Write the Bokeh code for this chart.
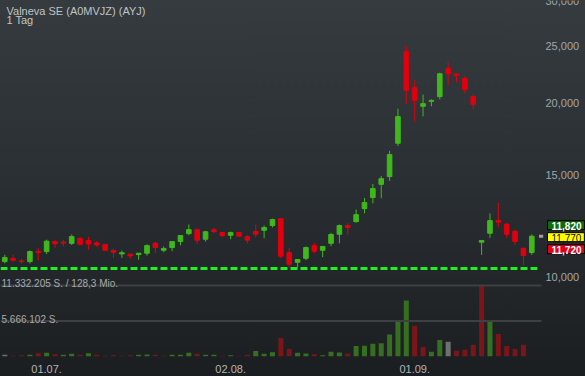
import numpy as np
import pandas as pd
from bokeh.plotting import figure
from bokeh.models import Range1d, LinearScale, FixedTicker, Label, ColumnDataSource
from bokeh.embed import file_html
from bokeh.resources import INLINE

# ---------------- data ----------------
title_text = "Valneva SE (A0MVJZ) (AYJ)"
interval_text = "1 Tag"
start_date = "2021-06-24"

opens = [10.64, 10.77, 10.67, 10.64, 11.09, 11.07, 11.52, 11.49, 11.44, 11.66,
         11.57, 11.46, 11.39, 11.12, 10.97, 10.96, 10.94, 11.00, 11.44, 11.13,
         11.25, 11.52, 11.89, 12.08, 11.63, 12.08, 11.94, 11.81, 11.94, 11.75,
         11.99, 12.05, 12.28, 12.62, 11.03, 10.61, 10.78, 11.34, 11.13, 11.44,
         11.86, 12.28, 12.47, 13.13, 13.72, 14.46, 14.91, 17.02, 24.48, 21.22,
         19.71, 20.10, 20.48, 22.91, 22.41, 22.02, 20.50, 11.49, 11.91, 12.52,
         12.34, 12.00, 11.22, 11.03]
highs = [10.93, 10.93, 10.76, 11.12, 11.22, 11.61, 11.57, 11.61, 11.85, 11.74,
         11.74, 11.54, 11.42, 11.19, 11.12, 10.96, 11.00, 11.39, 11.51, 11.30,
         11.52, 11.80, 12.33, 12.08, 12.02, 12.17, 11.94, 11.99, 11.94, 11.81,
         12.33, 12.28, 12.62, 12.62, 11.24, 10.73, 11.30, 11.46, 11.30, 11.93,
         12.33, 12.39, 13.08, 13.70, 14.48, 14.95, 16.51, 19.53, 25.07, 21.88,
         20.64, 20.26, 22.52, 23.46, 22.41, 22.26, 20.64, 11.57, 12.88, 13.43,
         12.41, 12.07, 11.22, 11.85]
lows = [10.57, 10.64, 10.55, 10.56, 10.69, 10.97, 11.24, 11.31, 11.37, 11.34,
        11.15, 11.28, 11.10, 10.80, 10.80, 10.76, 10.72, 10.90, 11.00, 11.04,
        11.09, 11.35, 11.81, 11.40, 11.52, 11.91, 11.72, 11.63, 11.75, 11.44,
        11.72, 11.67, 12.19, 10.78, 10.38, 10.40, 10.70, 11.00, 10.83, 11.31,
        11.44, 11.83, 12.42, 12.89, 13.41, 13.68, 14.66, 16.84, 19.89, 18.54,
        18.94, 19.71, 20.26, 21.45, 21.67, 20.75, 19.45, 10.93, 11.69, 12.19,
        11.69, 11.37, 10.50, 10.93]
closes = [10.81, 10.70, 10.64, 11.07, 11.03, 11.54, 11.43, 11.45, 11.75, 11.40,
          11.41, 11.37, 11.13, 11.04, 11.02, 10.89, 11.00, 11.34, 11.25, 11.21,
          11.52, 11.80, 12.08, 11.58, 11.98, 11.99, 11.80, 11.94, 11.77, 11.58,
          11.86, 12.18, 12.57, 10.87, 10.53, 10.73, 11.25, 11.09, 11.30, 11.85,
          12.28, 12.18, 12.82, 13.45, 14.22, 14.79, 16.27, 18.92, 21.00, 20.18,
          19.92, 20.18, 22.43, 22.43, 22.29, 21.06, 19.86, 11.57, 12.52, 12.44,
          11.86, 11.52, 10.90, 11.77]
volumes = [275000, 115000, 210000, 275000, 530000, 600000, 370000, 275000, 435000, 275000,
           530000, 275000, 115000, 210000, 115000, 210000, 275000, 320000, 275000, 115000,
           275000, 275000, 600000, 435000, 275000, 275000, 115000, 210000, 115000, 275000,
           880000, 436000, 694000, 2950000, 1180000, 597000, 484000, 371000, 210000, 759000,
           646000, 436000, 1660000, 1720000, 2050000, 2100000, 3500000, 5600000, 8930000, 4900000,
           1510000, 759000, 2640000, 2370000, 920000, 1080000, 1880000, 11332205, 5760000, 3600000,
           1660000, 1180000, 1880000, 0]
price_ticks = [10, 15, 20, 25, 30]
turnover_text = "128,3 Mio."
quote_ask = 11.82
quote_last = 11.77
quote_bid = 11.72
support_level = 10.35

# ---------------- derived ----------------
n = len(closes)
idx = np.arange(n)
dates = pd.bdate_range(start_date, periods=n)
month_ticks = [int(i) for i in range(1, n) if dates[i].month != dates[i - 1].month]
tick_labels = {i: dates[i].strftime("%d.%m.") for i in month_ticks}

o = np.array(opens); h = np.array(highs); l = np.array(lows); c = np.array(closes)
UP, DOWN = "#40b81c", "#e0000e"
ccol = [UP if cc >= oo else DOWN for oo, cc in zip(o, c)]

VUP, VDOWN, VFLAT = "#356f1f", "#7a1519", "#707070"
vcol = [VFLAT]
for i in range(1, n):
    d = round(c[i] - c[i - 1], 4)
    vcol.append(VUP if d > 0 else (VDOWN if d < 0 else VFLAT))

vmax = max(volumes)


def de_int(v):
    return f"{int(v):,}".replace(",", ".")


def de_price(v):
    return f"{v:.3f}".replace(".", ",")


FONT = "Liberation Sans"
W, HGT = 585, 376
FRAME_H = 356
SLOT = 8.365                    # px per trading day
x_start = -4.3 / SLOT
x_end = x_start + W / SLOT
plot_end = n + 0.16             # right edge of the drawing area (price scale sits beyond)

p = figure(width=W, height=HGT, output_backend="svg", toolbar_location=None,
           title=None, y_axis_location=None,
           x_range=Range1d(x_start, x_end), y_range=Range1d(7.30, 30.0),
           y_axis_type="log",
           min_border_left=0, min_border_top=0, min_border_right=0, min_border_bottom=20)
p.background_fill_alpha = 0
p.border_fill_alpha = 0
p.outline_line_color = None
p.grid.visible = False
p.styles = {"background": "linear-gradient(180deg, #353b3f 0%, #2b3034 45%, #1b1e21 100%)"}

p.extra_y_ranges = {"vol": Range1d(0, vmax * FRAME_H / 71.0)}
p.extra_y_scales = {"vol": LinearScale()}

xa = p.xaxis[0]
xa.ticker = FixedTicker(ticks=month_ticks)
xa.major_label_overrides = tick_labels
xa.axis_line_color = None
xa.major_tick_line_color = None
xa.minor_tick_line_color = None
xa.major_label_standoff = 2
xa.major_label_text_color = "#b3b5b7"
xa.major_label_text_font = FONT
xa.major_label_text_font_size = "11px"

# price scale labels (right)
for t in price_ticks:
    p.add_layout(Label(x=545, x_units="screen", y=t, text=de_price(t),
                       text_font=FONT, text_font_size="11px", text_color="#a3a6a8",
                       text_baseline="middle"))

# volume panel
vsrc = ColumnDataSource(dict(x=idx, top=volumes, color=vcol))
p.vbar(x="x", top="top", width=0.6, fill_color="color", line_color=None,
       source=vsrc, y_range_name="vol")
p.segment(x0=[x_start, x_start], x1=[plot_end, plot_end], y0=[vmax, vmax / 2], y1=[vmax, vmax / 2],
          line_color="#3d4144", line_width=2, y_range_name="vol")

# candles
csrc = ColumnDataSource(dict(x=idx, o=o, h=h, l=l, c=c,
                             top=np.maximum(o, c), bottom=np.minimum(o, c), color=ccol))
p.segment(x0="x", y0="h", x1="x", y1="l", line_color="color", line_width=1, source=csrc)
p.vbar(x="x", top="top", bottom="bottom", width=0.55, fill_color="color",
       line_color="color", line_width=1, source=csrc)

# support line
p.segment(x0=[x_start], x1=[plot_end - 0.5], y0=[support_level], y1=[support_level],
          line_color="#1ff01f", line_width=3, line_dash="7 3")

# last price marker
p.segment(x0=[plot_end - 0.3], x1=[plot_end + 0.2], y0=[quote_last], y1=[quote_last],
          line_color="#a0a0a0", line_width=3)

# texts
p.add_layout(Label(x=6, y=FRAME_H - 10.7, x_units="screen", y_units="screen", text=title_text,
                   text_font=FONT, text_font_size="11px", text_color="#c0c3c5",
                   text_baseline="alphabetic"))
p.add_layout(Label(x=6, y=FRAME_H - 19.3, x_units="screen", y_units="screen", text=interval_text,
                   text_font=FONT, text_font_size="11px", text_color="#c0c3c5",
                   text_baseline="alphabetic"))
p.add_layout(Label(x=1, y=vmax, x_units="screen", y_range_name="vol", y_offset=2,
                   text=f"{de_int(vmax)} S. / {turnover_text}",
                   text_font=FONT, text_font_size="10px", text_color="#a8aaac",
                   text_baseline="alphabetic"))
p.add_layout(Label(x=1, y=vmax / 2, x_units="screen", y_range_name="vol", y_offset=2,
                   text=f"{de_int(vmax / 2)} S.",
                   text_font=FONT, text_font_size="10px", text_color="#a8aaac",
                   text_baseline="alphabetic"))

for val, off, bg, fg, style in [(quote_ask, 12, "#0a6c0a", "white", "bold"),
                                (quote_last, 0, "#ffff00", "#111111", "normal"),
                                (quote_bid, -12, "#e2001a", "white", "bold")]:
    p.add_layout(Label(x=547, x_units="screen", y=quote_last, y_offset=off - 1,
                       text=de_price(val), text_font=FONT, text_font_size="10px",
                       text_font_style=style,
                       text_color=fg, text_baseline="middle",
                       background_fill_color=bg, border_line_color="black",
                       border_line_width=1,
                       padding=dict(left=4, right=3, top=1, bottom=0)))

open("out.html", "w").write(file_html(p, INLINE))
